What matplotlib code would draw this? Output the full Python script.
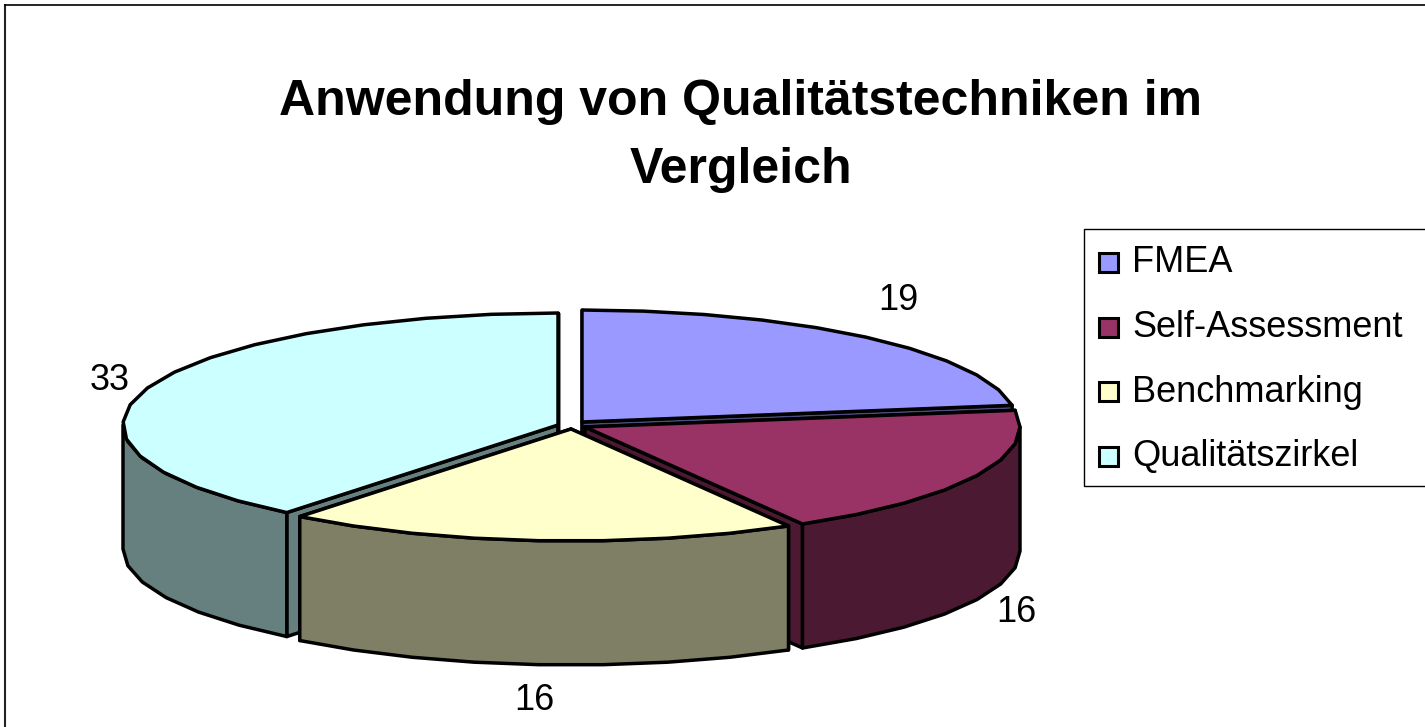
import numpy as np
import matplotlib
matplotlib.use("Agg")
import matplotlib.pyplot as plt
from matplotlib.patches import Polygon, Rectangle

plt.rcParams["font.family"] = ["Liberation Sans", "DejaVu Sans"]

labels = ["FMEA", "Self-Assessment", "Benchmarking", "Qualitätszirkel"]
values = [19, 16, 16, 33]
top_colors = ["#9999FF", "#993366", "#FFFFCC", "#CCFFFF"]
side_colors = ["#4C4C7F", "#4C1933", "#7F7F66", "#667F7F"]

# apex of each exploded slice, pixels
apex_x = [582, 585, 571, 558]
apex_y = [422, 427, 429, 425]
label_x = [898, 1016, 534, 110]
label_y = [300, 612, 700, 380]

RX = 435
RY = 112
DEPTH = 124
LW = 2.5


def rim(cx, cy, a0, a1):
    # coarse steps, the rim in the original is visibly faceted
    n = int((a1 - a0) / 9) + 2
    a = np.radians(np.linspace(a0, a1, n))
    return cx + RX * np.sin(a), cy - RY * np.cos(a)


fig = plt.figure(figsize=(14.25, 7.27), dpi=100)
ax = fig.add_axes([0, 0, 1, 1])
ax.set_xlim(0, 1425)
ax.set_ylim(727, 0)
ax.axis("off")

ax.plot([5, 5], [727, 5], color="#222222", lw=1.5)
ax.plot([5, 1425], [5, 5], color="black", lw=1.2)

edges = np.cumsum([0] + values) / sum(values) * 360
# back to front
for i in [0, 3, 1, 2]:
    a0, a1 = edges[i], edges[i + 1]
    cx, cy = apex_x[i], apex_y[i]
    kw = dict(edgecolor="black", lw=LW, joinstyle="round", facecolor=side_colors[i])
    # cut faces
    for a in (a0, a1):
        x, y = cx + RX * np.sin(np.radians(a)), cy - RY * np.cos(np.radians(a))
        ax.add_patch(Polygon([(cx, cy), (x, y), (x, y + DEPTH), (cx, cy + DEPTH)], **kw))
    # outer wall, only the part facing the viewer
    lo, hi = max(a0, 90), min(a1, 270)
    if lo < hi:
        x, y = rim(cx, cy, lo, hi)
        pts = np.r_[np.c_[x, y], np.c_[x, y + DEPTH][::-1]]
        ax.add_patch(Polygon(pts, **kw))
    x, y = rim(cx, cy, a0, a1)
    pts = np.r_[[(cx, cy)], np.c_[x, y]]
    ax.add_patch(Polygon(pts, edgecolor="black", lw=LW, joinstyle="round", facecolor=top_colors[i]))

for i, v in enumerate(values):
    ax.text(label_x[i], label_y[i], str(v), fontsize=26, ha="center", va="center")

ax.text(741, 102, "Anwendung von Qualitätstechniken im", fontsize=36, fontweight="bold", ha="center", va="center")
ax.text(741, 170, "Vergleich", fontsize=36, fontweight="bold", ha="center", va="center")

ax.add_patch(Rectangle((1084.5, 228.5), 345, 257.5, facecolor="white", edgecolor="black", lw=1))
for i, name in enumerate(labels):
    y = 262.5 + i * 64.5
    ax.add_patch(Rectangle((1099, y - 9.5), 19, 19, facecolor=top_colors[i], edgecolor="black", lw=2.2))
    ax.text(1132, y + 0.5, name, fontsize=26, ha="left", va="center")

fig.savefig("out.png", dpi=100)
